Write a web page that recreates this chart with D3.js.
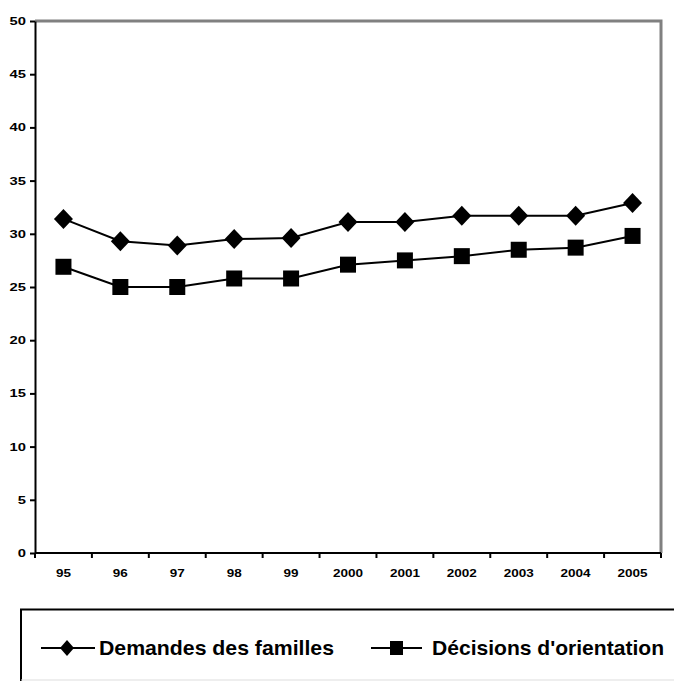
<html lang="fr">
<head>
<meta charset="utf-8">
<script src="https://d3js.org/d3.v7.min.js"></script>
<style>
body { margin: 0; background: #fff; }
svg text { font-family: "Liberation Sans", Arial, sans-serif; font-weight: bold; fill: #000; }
</style>
</head>
<body>
<div id="chart"></div>
<script>
const years = ["95", "96", "97", "98", "99", "2000", "2001", "2002", "2003", "2004", "2005"];
const demandes = [31.4, 29.3, 28.9, 29.5, 29.6, 31.1, 31.1, 31.7, 31.7, 31.7, 32.9];
const decisions = [26.9, 25.0, 25.0, 25.8, 25.8, 27.1, 27.5, 27.9, 28.5, 28.7, 29.8];
const yTicks = [0, 5, 10, 15, 20, 25, 30, 35, 40, 45, 50];

const width = 674, height = 681;
const plot = {left: 35, right: 661, top: 21, bottom: 553};

const svg = d3.select("#chart").append("svg")
  .attr("width", width)
  .attr("height", height);

const x = d3.scaleBand()
  .domain(years)
  .range([plot.left, plot.right]);

const y = d3.scaleLinear()
  .domain([0, 50])
  .range([plot.bottom, plot.top]);

// grey frame top and right
svg.append("path")
  .attr("d", `M${plot.left},${plot.top}H${plot.right}V${plot.bottom}`)
  .attr("fill", "none")
  .attr("stroke", "#808080")
  .attr("stroke-width", 3);

// y axis
const yAxis = svg.append("g")
  .attr("transform", `translate(${plot.left},0)`)
  .call(d3.axisLeft(y).tickValues(yTicks).tickSize(5).tickSizeOuter(0).tickPadding(4));
yAxis.attr("font-family", null);
yAxis.select(".domain").attr("stroke", "#000").attr("stroke-width", 2);
yAxis.selectAll(".tick line").attr("stroke", "#000").attr("stroke-width", 2);
yAxis.selectAll(".tick text")
  .attr("font-size", 11)
  .attr("textLength", d => String(d).length * 8.2)
  .attr("lengthAdjust", "spacingAndGlyphs");

// x axis: ticks between categories
const xAxis = svg.append("g")
  .attr("transform", `translate(0,${plot.bottom})`);
xAxis.append("line")
  .attr("x1", plot.left).attr("x2", plot.right)
  .attr("stroke", "#000").attr("stroke-width", 2);
const bounds = years.map(d => x(d)).concat([plot.right]);
xAxis.selectAll("line.tk")
  .data(bounds)
  .join("line")
    .attr("class", "tk")
    .attr("x1", d => d).attr("x2", d => d)
    .attr("y1", 0).attr("y2", 5)
    .attr("stroke", "#000").attr("stroke-width", 2);
xAxis.selectAll("text")
  .data(years)
  .join("text")
    .attr("x", d => x(d) + x.bandwidth() / 2)
    .attr("y", 24)
    .attr("text-anchor", "middle")
    .attr("font-size", 11)
    .attr("textLength", d => d.length * 7.5)
    .attr("lengthAdjust", "spacingAndGlyphs")
    .text(d => d);

const cx = d => x(d) + x.bandwidth() / 2;
const line = d3.line()
  .x((d, i) => cx(years[i]))
  .y(d => y(d));

const series = [
  {name: "Demandes des familles", values: demandes, symbol: "diamond"},
  {name: "Décisions d'orientation", values: decisions, symbol: "square"}
];

function marker(g, s, big) {
  if (s.symbol === "diamond") {
    const rx = big ? 9.5 : 7, ry = big ? 10 : 8;
    g.append("path").attr("d", `M0,${-ry}L${rx},0L0,${ry}L${-rx},0Z`).attr("fill", "#000");
  } else {
    const hx = big ? 8 : 6.5, hy = big ? 8 : 7;
    g.append("rect").attr("x", -hx).attr("y", -hy).attr("width", 2 * hx).attr("height", 2 * hy).attr("fill", "#000");
  }
}

series.forEach(s => {
  svg.append("path")
    .datum(s.values)
    .attr("fill", "none")
    .attr("stroke", "#000")
    .attr("stroke-width", 2)
    .attr("d", line);
  s.values.forEach((v, i) => {
    const g = svg.append("g").attr("transform", `translate(${cx(years[i])},${y(v)})`);
    marker(g, s, true);
  });
});

// legend
const legend = svg.append("g");
legend.append("path")
  .attr("d", "M21,681V609.5H680")
  .attr("fill", "none").attr("stroke", "#000").attr("stroke-width", 2);
legend.append("line")
  .attr("x1", 21).attr("x2", 680).attr("y1", 680).attr("y2", 680)
  .attr("stroke", "#ddd").attr("stroke-width", 1);

const legendX = [41, 371];
const legendW = [54, 51];
const textX = [58, 61];
const textW = [235, 232];
series.forEach((s, i) => {
  const g = legend.append("g").attr("transform", `translate(${legendX[i]},648)`);
  g.append("line").attr("x1", 0).attr("x2", legendW[i]).attr("stroke", "#000").attr("stroke-width", 2);
  const m = g.append("g").attr("transform", `translate(${legendW[i] / 2 + (i ? 0 : -1)},0)`);
  marker(m, s, false);
  g.append("text")
    .attr("x", textX[i]).attr("y", 7)
    .attr("font-size", 21)
    .attr("textLength", textW[i])
    .attr("lengthAdjust", "spacingAndGlyphs")
    .text(s.name);
});
</script>
</body>
</html>
